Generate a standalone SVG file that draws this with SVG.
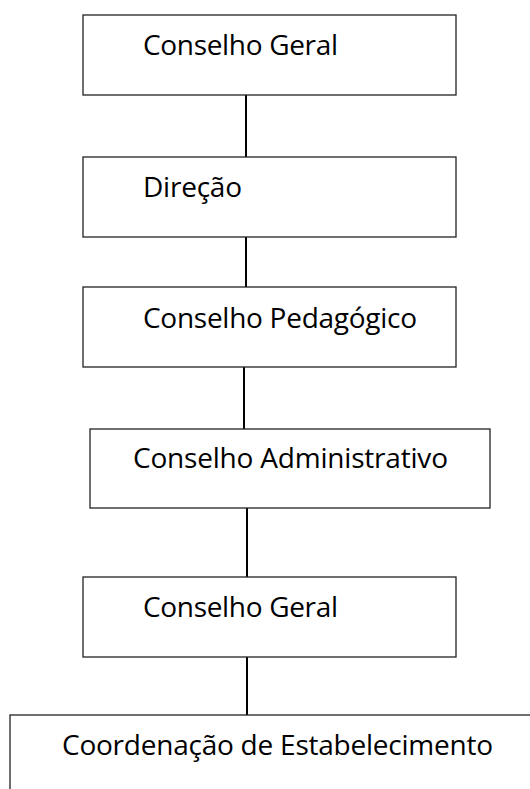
<svg xmlns="http://www.w3.org/2000/svg" width="530" height="789" viewBox="0 0 530 789">
<style>
.box{fill:#fff;stroke:#222;stroke-width:1.3}
.lbl{font-family:"Open Sans","Liberation Sans",sans-serif;font-size:28px;fill:#000}
.conn{stroke:#000;stroke-width:2;fill:none}
</style>
<rect width="530" height="789" fill="#fff"/>
<g id="connectors">
<line class="conn" x1="246" y1="95" x2="246" y2="157"/>
<line class="conn" x1="246" y1="237" x2="246" y2="287"/>
<line class="conn" x1="244" y1="367" x2="244" y2="429"/>
<line class="conn" x1="247" y1="508" x2="247" y2="577"/>
<line class="conn" x1="247" y1="657" x2="247" y2="715"/>
</g>
<g id="n1"><rect class="box" x="83" y="15" width="373" height="80"/><text class="lbl" x="143" y="55" textLength="195">Conselho Geral</text></g>
<g id="n2"><rect class="box" x="83" y="157" width="373" height="80"/><text class="lbl" x="143" y="197" textLength="99">Direção</text></g>
<g id="n3"><rect class="box" x="83" y="287" width="373" height="80"/><text class="lbl" x="143" y="328" textLength="274">Conselho Pedagógico</text></g>
<g id="n4"><rect class="box" x="90" y="429" width="400" height="79"/><text class="lbl" x="133" y="468" textLength="315">Conselho Administrativo</text></g>
<g id="n5"><rect class="box" x="83" y="577" width="373" height="80"/><text class="lbl" x="143" y="617" textLength="195">Conselho Geral</text></g>
<g id="n6"><rect class="box" x="10" y="715" width="540" height="100"/><text class="lbl" x="62" y="755" textLength="431">Coordenação de Estabelecimento</text></g>
</svg>
